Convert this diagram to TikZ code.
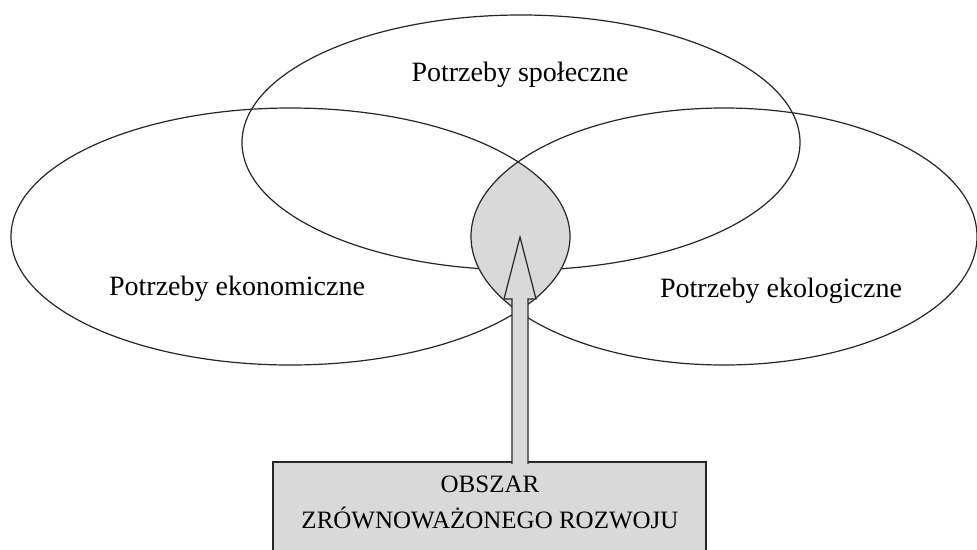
\documentclass[tikz,border=0pt]{standalone}
\usepackage{fontspec}
\setmainfont{Liberation Serif}
\begin{document}
\begin{tikzpicture}[x=1pt,y=-1pt,
  outline/.style={draw=black!85,line width=1.2pt},
  lensfill/.style={fill=black!15},
  label/.style={font=\fontsize{28}{30}\selectfont,anchor=base,inner sep=0pt},
  boxtext/.style={font=\fontsize{25}{36}\selectfont,align=center,inner sep=0pt}]
\useasboundingbox (0,0) rectangle (977,549);
\fill[white] (0,0) rectangle (977,549);
% top ellipse
\draw[outline] (521,142.5) ellipse [x radius=279, y radius=127.5];
% lens (intersection of left and right ellipses)
\begin{scope}
  \clip (290.5,236.5) ellipse [x radius=279.5, y radius=128.5];
  \fill[lensfill] (724,236.5) ellipse [x radius=253, y radius=128.5];
\end{scope}
\draw[outline] (290.5,236.5) ellipse [x radius=279.5, y radius=128.5];
\draw[outline] (724,236.5) ellipse [x radius=253, y radius=128.5];
% labels
\node[label] (soc) at (520,81) {Potrzeby społeczne};
\node[label] (eko) at (237,295) {Potrzeby ekonomiczne};
\node[label] (eco) at (781,297) {Potrzeby ekologiczne};
% box
\fill[lensfill] (273,462) rectangle (706,560);
\draw[outline] (273,560) -- (273,462) -- (706,462) -- (706,560);
\node[boxtext] (l1) at (490,492) [anchor=base] {OBSZAR};
\node[boxtext] (l2) at (490,528) [anchor=base] {ZRÓWNOWAŻONEGO ROZWOJU};
% arrow
\coordinate (tip) at (520,237);
\filldraw[lensfill,outline,line join=miter]
  (512,464) -- (512,299) -- (504,299) -- (tip) -- (536,299) -- (528,299) -- (528,464);
\end{tikzpicture}
\end{document}
